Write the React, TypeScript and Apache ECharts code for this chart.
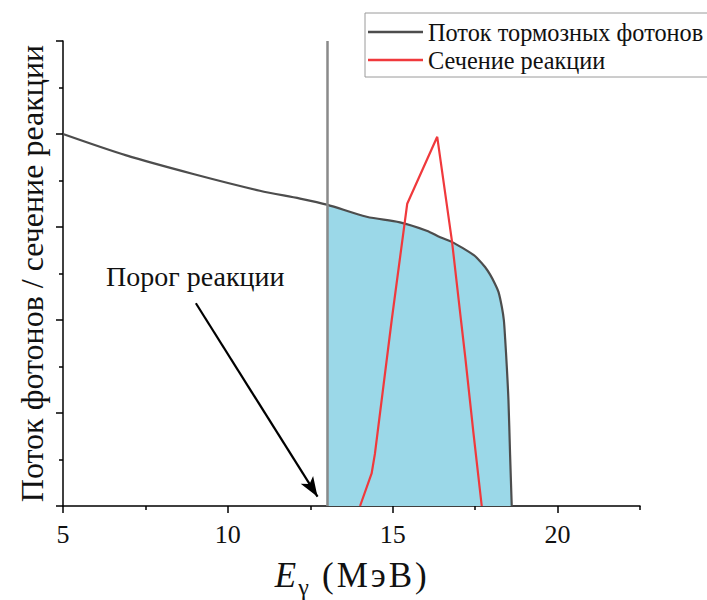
import React, { useEffect, useRef } from "react";
import * as echarts from "echarts";

// Photon flux (bremsstrahlung), arbitrary units
const fluxEnergy = [5.0, 6.92, 8.95, 10.97, 12.19, 13.0, 14.21, 15.22, 16.03, 16.44, 16.79, 17.14, 17.45, 17.55, 17.8, 17.95, 18.1, 18.21, 18.31, 18.37, 18.41, 18.46, 18.51, 18.56, 18.61];
const fluxValue = [4.0, 3.77, 3.57, 3.39, 3.305, 3.24, 3.11, 3.05, 2.96, 2.89, 2.84, 2.77, 2.7, 2.67, 2.57, 2.49, 2.39, 2.3, 2.14, 2.0, 1.8, 1.5, 1.14, 0.55, 0.0];

// Reaction cross-section, arbitrary units
const crossEnergy = [14.01, 14.36, 14.46, 14.97, 15.44, 16.35, 16.8, 17.07, 17.2, 17.45, 17.7];
const crossValue = [0.0, 0.35, 0.56, 2.0, 3.25, 3.97, 2.84, 2.0, 1.6, 0.78, 0.0];

const threshold = 13;
const arrowFrom = [9.03, 2.18];
const arrowTo = [12.72, 0.1];

const xMajorTicks = [5, 10, 15, 20];
const xMinorTicks = [7.5, 12.5, 17.5, 22.5];

const seriesNames = ["Поток тормозных фотонов", "Сечение реакции"];
const annotationText = "Порог реакции";
const yAxisTitle = "Поток фотонов / сечение реакции";

const FONT = "'Liberation Serif', 'Times New Roman', serif";

export default function App() {
  const ref = useRef<HTMLDivElement>(null);

  useEffect(() => {
    if (!ref.current) return;
    const chart = echarts.init(ref.current, undefined, { renderer: "svg" });

    const flux = fluxEnergy.map((e, i) => [e, fluxValue[i]]);
    const fill = flux.filter((p) => p[0] >= threshold);
    const cross = crossEnergy.map((e, i) => [e, crossValue[i]]);

    const axisLine = { show: true, lineStyle: { color: "#000", width: 1.5 } };
    const nameTok = (extra: any) => ({
      fontFamily: FONT,
      fontSize: 35,
      color: "#111",
      lineHeight: 47,
      verticalAlign: "middle",
      padding: [0, 1.5, 0, 1.5],
      ...extra,
    });

    chart.setOption({
      animation: false,
      backgroundColor: "#fff",
      grid: { left: 63, top: 41, width: 577, height: 465, containLabel: false, outerBoundsMode: "none" },
      legend: {
        orient: "vertical",
        left: 365,
        top: 13,
        data: seriesNames,
        icon: "rect",
        borderColor: "#9a9a9a",
        borderWidth: 1,
        padding: [7, 12, 5, 3],
        itemGap: 4,
        itemWidth: 55,
        itemHeight: 2.5,
        selectedMode: false,
        textStyle: { fontFamily: FONT, fontSize: 24.3, color: "#111" },
      },
      xAxis: [
        {
          type: "value",
          min: 5,
          max: 22.5,
          position: "bottom",
          axisLine,
          axisTick: { show: true, customValues: xMinorTicks, length: 4, lineStyle: { color: "#000", width: 1.5 } },
          axisLabel: { show: false },
          splitLine: { show: false },
        },
        {
          type: "value",
          min: 5,
          max: 22.5,
          position: "bottom",
          axisLine: { show: false },
          axisTick: { show: true, customValues: xMajorTicks, length: 7, lineStyle: { color: "#000", width: 1.5 } },
          axisLabel: { show: true, customValues: xMajorTicks, fontFamily: FONT, fontSize: 26, color: "#111", margin: 15 },
          splitLine: { show: false },
          name: "{e|E}{g|γ}{s| }{c|(}{c|М}{c|э}{c|В}{c|)}",
          nameLocation: "middle",
          nameGap: 46,
          nameTextStyle: {
            fontFamily: FONT,
            color: "#111",
            rich: {
              e: nameTok({ fontStyle: "italic", padding: [0, 2, 0, 0] }),
              g: { fontFamily: FONT, fontSize: 24, color: "#111", lineHeight: 47, verticalAlign: "bottom", padding: [0, 2, 0, 0] },
              s: nameTok({ padding: [0, 1, 0, 0] }),
              c: nameTok({}),
            },
          },
        },
      ],
      yAxis: {
        type: "value",
        min: 0,
        max: 5,
        interval: 1,
        axisLine,
        axisTick: { show: true, length: 7, lineStyle: { color: "#000", width: 1.5 } },
        minorTick: { show: true, splitNumber: 2, length: 4, lineStyle: { color: "#000", width: 1.5 } },
        axisLabel: { show: false },
        splitLine: { show: false },
        minorSplitLine: { show: false },
        name: yAxisTitle,
        nameLocation: "middle",
        nameGap: 15,
        nameTextStyle: { fontFamily: FONT, fontSize: 32, color: "#111" },
      },
      graphic: [
        {
          type: "text",
          left: 106,
          top: 262,
          style: { text: annotationText, font: `28px ${FONT}`, fill: "#111" },
        },
      ],
      series: [
        {
          type: "line",
          name: "fill",
          data: fill,
          symbol: "none",
          smooth: 0.3,
          lineStyle: { width: 0 },
          areaStyle: { color: "#9bd8e8", opacity: 1 },
          silent: true,
          z: 1,
          markLine: {
            silent: true,
            symbol: "none",
            label: { show: false },
            lineStyle: { color: "#8a8a8a", width: 2.5, type: "solid" },
            data: [{ xAxis: threshold }],
          },
        },
        {
          type: "line",
          name: seriesNames[0],
          data: flux,
          symbol: "none",
          smooth: 0.3,
          lineStyle: { color: "#4d4d4d", width: 2.2 },
          itemStyle: { color: "#4d4d4d" },
          z: 3,
          markLine: {
            silent: true,
            label: { show: false },
            symbolSize: [11, 20],
            lineStyle: { color: "#000", width: 2.2, type: "solid" },
            data: [
              [
                { coord: arrowFrom, symbol: "none" },
                { coord: arrowTo, symbol: "arrow" },
              ],
            ],
          },
        },
        {
          type: "line",
          name: seriesNames[1],
          data: cross,
          symbol: "none",
          lineStyle: { color: "#f0393c", width: 2.2 },
          itemStyle: { color: "#f0393c" },
          z: 4,
        },
      ],
    });

    return () => chart.dispose();
  }, []);

  return <div ref={ref} style={{ position: "fixed", left: 0, top: 0, width: 707, height: 600 }} />;
}
